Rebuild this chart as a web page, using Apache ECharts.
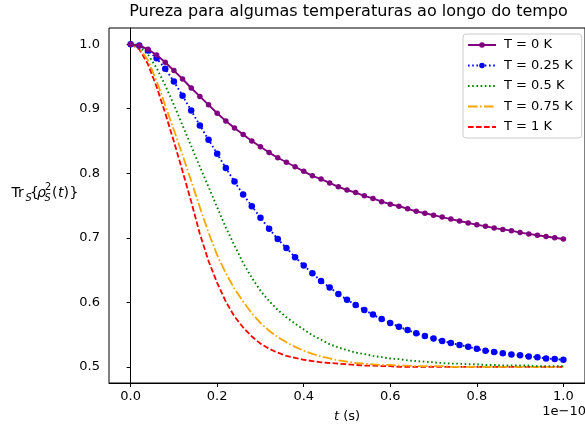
<!DOCTYPE html>
<html><head><meta charset="utf-8">
<script src="https://cdn.jsdelivr.net/npm/echarts@6/dist/echarts.min.js"></script>
<style>html,body{margin:0;padding:0;background:#fff}#c{width:585px;height:430px}</style>
</head><body><div id="c"></div>
<script>
const tValues = [0.00,0.02,0.04,0.06,0.08,0.10,0.12,0.14,0.16,0.18,0.20,0.22,0.24,0.26,0.28,0.30,0.32,0.34,0.36,0.38,0.40,0.42,0.44,0.46,0.48,0.50,0.52,0.54,0.56,0.58,0.60,0.62,0.64,0.66,0.68,0.70,0.72,0.74,0.76,0.78,0.80,0.82,0.84,0.86,0.88,0.90,0.92,0.94,0.96,0.98,1.00];
const seriesNames = ['T = 0 K','T = 0.25 K','T = 0.5 K','T = 0.75 K','T = 1 K'];
const purityT0 = [1.000,0.998,0.992,0.983,0.972,0.959,0.946,0.932,0.919,0.906,0.893,0.881,0.870,0.860,0.850,0.841,0.832,0.824,0.817,0.810,0.803,0.796,0.791,0.785,0.779,0.774,0.770,0.765,0.761,0.756,0.752,0.749,0.745,0.741,0.738,0.735,0.732,0.729,0.726,0.723,0.720,0.718,0.715,0.713,0.711,0.708,0.706,0.704,0.702,0.700,0.698];
const purityT025 = [1.000,0.998,0.990,0.978,0.962,0.942,0.920,0.897,0.874,0.852,0.830,0.808,0.787,0.767,0.749,0.731,0.714,0.698,0.684,0.670,0.657,0.645,0.633,0.623,0.613,0.604,0.596,0.588,0.581,0.574,0.568,0.562,0.557,0.552,0.548,0.544,0.540,0.537,0.534,0.531,0.528,0.525,0.523,0.521,0.519,0.518,0.516,0.515,0.513,0.512,0.511];
const purityT05 = [1.000,0.996,0.984,0.963,0.936,0.906,0.874,0.842,0.810,0.779,0.747,0.716,0.688,0.661,0.638,0.618,0.602,0.588,0.577,0.567,0.558,0.549,0.542,0.535,0.530,0.526,0.522,0.520,0.517,0.515,0.513,0.512,0.510,0.509,0.508,0.507,0.506,0.505,0.505,0.504,0.504,0.503,0.503,0.502,0.502,0.502,0.502,0.501,0.501,0.501,0.501];
const purityT075 = [1.000,0.994,0.975,0.943,0.905,0.867,0.828,0.788,0.747,0.708,0.673,0.645,0.621,0.601,0.583,0.568,0.556,0.546,0.538,0.531,0.525,0.520,0.516,0.513,0.510,0.508,0.506,0.505,0.504,0.503,0.503,0.502,0.502,0.501,0.501,0.501,0.501,0.500,0.500,0.500,0.500,0.500,0.500,0.500,0.500,0.500,0.500,0.500,0.500,0.500,0.500];
const purityT1 = [1.000,0.992,0.969,0.934,0.893,0.849,0.803,0.756,0.706,0.664,0.630,0.601,0.578,0.561,0.547,0.536,0.528,0.522,0.517,0.514,0.511,0.509,0.507,0.506,0.505,0.504,0.503,0.502,0.502,0.501,0.501,0.500,0.500,0.500,0.500,0.500,0.500,0.500,0.500,0.500,0.500,0.500,0.500,0.500,0.500,0.500,0.500,0.500,0.500,0.500,0.500];
const xTicks = [0.0,0.2,0.4,0.6,0.8,1.0];
const yTicks = [0.5,0.6,0.7,0.8,0.9,1.0];

const FONT = "'DejaVu Sans', sans-serif";
const pair = arr => tValues.map((t,i)=>[t, arr[i]]);
const chart = echarts.init(document.getElementById('c'), null, {renderer:'canvas'});

const styles = [
  {color:'#800080', width:1.9, type:'solid', symbol:'circle', size:5.5},
  {color:'#0000ff', width:1.9, type:[1.6,2.6], symbol:'circle', size:6.5},
  {color:'#008000', width:1.9, type:[1.6,2.6], symbol:'none', size:0},
  {color:'#ffa500', width:1.8, type:[9.6,2.4,1.6,2.4], symbol:'none', size:0},
  {color:'#ff0000', width:1.8, type:[5.6,2.4], symbol:'none', size:0}
];
const dataSets = [purityT0, purityT025, purityT05, purityT075, purityT1];

const series = dataSets.map((d,i)=>({
  name: seriesNames[i], type:'line', data: pair(d),
  symbol: styles[i].symbol, symbolSize: styles[i].size, showSymbol: styles[i].symbol!=='none',
  smooth: false,
  lineStyle:{color:styles[i].color, width:styles[i].width, type:styles[i].type, join:'round'},
  itemStyle:{color:styles[i].color},
  emphasis:{disabled:true}, z: 10 - i
}));

const legendData = seriesNames.map((n,i)=> styles[i].symbol==='none'
  ? {name:n, itemStyle:{opacity:0}}
  : {name:n});

const yl = 193;
const g = (txt, x, y, font, extra) => ({type:'text', x:x, y:y, silent:true,
  style:Object.assign({text:txt, font:font, fill:'#000', align:'left', verticalAlign:'middle'}, extra||{})});
chart.setOption({
  animation:false,
  backgroundColor:'#fff',
  textStyle:{fontFamily:FONT},
  grid:{left:109, top:28, width:479, height:355, show:true, borderColor:'#000', borderWidth:1, backgroundColor:'transparent'},
  xAxis:{type:'value', min:-0.05, max:1.05,
    axisLine:{show:true, lineStyle:{color:'#000', width:1}},
    axisTick:{show:true, length:4, lineStyle:{color:'#000'}, customValues:xTicks},
    axisLabel:{fontFamily:FONT, fontSize:13, color:'#000', margin:7, customValues:xTicks, formatter:v=>v.toFixed(1)},
    splitLine:{show:false},
    name:'{i|t} (s)', nameLocation:'middle', nameGap:27,
    nameTextStyle:{fontFamily:FONT, fontSize:13, color:'#000', rich:{i:{fontFamily:FONT, fontSize:13, fontStyle:'italic', color:'#000'}}}
  },
  yAxis:{type:'value', min:0.475, max:1.025,
    axisLine:{show:true, lineStyle:{color:'#000', width:1}},
    axisTick:{show:true, length:4, lineStyle:{color:'#000'}, customValues:yTicks},
    axisLabel:{fontFamily:FONT, fontSize:13, color:'#000', margin:9, customValues:yTicks, formatter:v=>v.toFixed(1)},
    splitLine:{show:false}
  },
  legend:{orient:'vertical', left:463, top:34, padding:[4,9,4,4], itemWidth:28, itemHeight:7, itemGap:6.5,
    backgroundColor:'rgba(255,255,255,0.8)', borderColor:'#cccccc', borderWidth:1, borderRadius:3,
    textStyle:{fontFamily:FONT, fontSize:13, color:'#000', lineHeight:14, padding:[0,0,0,3]},
    data:legendData, selectedMode:false},
  graphic:[
    g('Pureza para algumas temperaturas ao longo do tempo', 348.5, 12, "16px 'DejaVu Sans'", {align:'center'}),
    g('1e\u221210', 586, 412, "13px 'DejaVu Sans'", {align:'right'}),
    g('Tr', 11.5, yl, "14px 'DejaVu Sans'"),
    g('S', 25.5, yl+5, "italic 9.8px 'DejaVu Sans'"),
    g('{', 30, yl, "14px 'DejaVu Sans'"),
    g('\u03c1', 37, yl, "italic 14px 'DejaVu Sans'"),
    g('2', 45, yl-6, "9.8px 'DejaVu Sans'"),
    g('S', 44.5, yl+5, "italic 9.8px 'DejaVu Sans'"),
    g('(', 52, yl, "14px 'DejaVu Sans'"),
    g('t', 58, yl, "italic 14px 'DejaVu Sans'"),
    g(')', 63.5, yl, "14px 'DejaVu Sans'"),
    g('}', 69.5, yl, "14px 'DejaVu Sans'")
  ],
  series: series
});
</script></body></html>
